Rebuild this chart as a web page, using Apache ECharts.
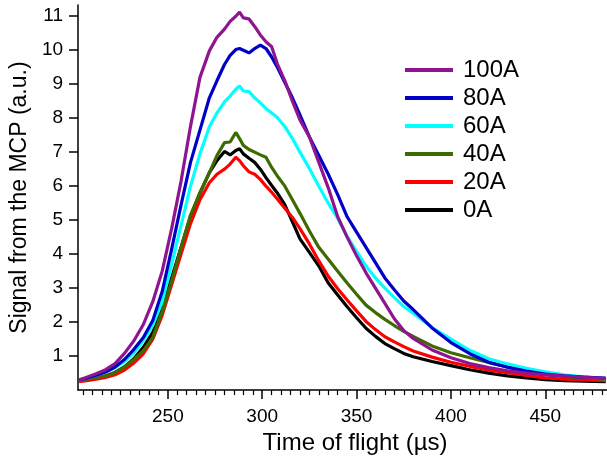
<!DOCTYPE html>
<html>
<head>
<meta charset="utf-8">
<script src="https://cdn.jsdelivr.net/npm/echarts@6/dist/echarts.min.js"></script>
<style>
html,body{margin:0;padding:0;background:#fff;}
#chart{width:607px;height:460px;}
</style>
</head>
<body>
<div id="chart"></div>
<script>
// Time of flight (µs) sample positions
const timeOfFlight = [203, 207, 212, 217, 222, 227, 232, 237, 242, 247, 252, 257, 262, 267, 272, 276, 280, 283, 286, 288, 290, 293, 296, 299, 302, 305, 308, 312, 316, 320, 325, 330, 335, 340, 345, 350, 355, 360, 365, 370, 375, 380, 390, 400, 410, 420, 430, 440, 450, 460, 470, 482];

const signal100A = [0.30, 0.38, 0.48, 0.60, 0.78, 1.08, 1.45, 1.93, 2.60, 3.50, 4.75, 6.15, 7.76, 9.20, 9.98, 10.38, 10.62, 10.85, 11.00, 11.12, 10.95, 10.92, 10.70, 10.45, 10.25, 10.10, 9.60, 9.10, 8.50, 7.95, 7.45, 6.70, 5.95, 5.10, 4.50, 3.95, 3.45, 3.00, 2.55, 2.10, 1.75, 1.52, 1.18, 0.95, 0.78, 0.66, 0.57, 0.50, 0.45, 0.41, 0.38, 0.34];
const signal80A  = [0.30, 0.35, 0.44, 0.53, 0.68, 0.90, 1.20, 1.55, 2.05, 2.90, 4.15, 5.45, 6.70, 7.65, 8.60, 9.10, 9.58, 9.85, 10.02, 10.05, 10.00, 9.92, 10.05, 10.15, 10.05, 9.80, 9.50, 9.05, 8.60, 8.10, 7.45, 6.90, 6.35, 5.75, 5.10, 4.65, 4.20, 3.75, 3.30, 2.95, 2.62, 2.37, 1.83, 1.40, 1.07, 0.82, 0.67, 0.56, 0.47, 0.42, 0.38, 0.35];
const signal60A  = [0.30, 0.35, 0.44, 0.54, 0.66, 0.84, 1.10, 1.46, 1.90, 2.60, 3.70, 4.85, 6.00, 6.95, 7.75, 8.15, 8.48, 8.65, 8.85, 8.95, 8.80, 8.78, 8.60, 8.45, 8.28, 8.15, 8.02, 7.75, 7.40, 7.00, 6.52, 6.00, 5.50, 5.05, 4.52, 4.08, 3.65, 3.30, 3.00, 2.72, 2.46, 2.26, 1.84, 1.50, 1.17, 0.92, 0.77, 0.64, 0.54, 0.45, 0.39, 0.33];
const signal40A  = [0.28, 0.32, 0.37, 0.42, 0.52, 0.68, 0.90, 1.16, 1.55, 2.30, 3.20, 4.20, 5.15, 5.80, 6.40, 6.90, 7.28, 7.30, 7.58, 7.40, 7.20, 7.08, 7.00, 6.92, 6.85, 6.55, 6.30, 6.00, 5.60, 5.20, 4.68, 4.20, 3.85, 3.50, 3.15, 2.82, 2.50, 2.28, 2.08, 1.90, 1.73, 1.58, 1.30, 1.10, 0.95, 0.81, 0.68, 0.56, 0.46, 0.40, 0.36, 0.32];
const signal20A  = [0.25, 0.28, 0.32, 0.37, 0.45, 0.59, 0.80, 1.07, 1.50, 2.20, 3.10, 4.00, 4.90, 5.60, 6.10, 6.35, 6.50, 6.65, 6.85, 6.75, 6.60, 6.42, 6.35, 6.20, 6.00, 5.82, 5.62, 5.35, 5.08, 4.75, 4.30, 3.80, 3.35, 2.98, 2.65, 2.33, 2.02, 1.78, 1.57, 1.42, 1.28, 1.15, 0.97, 0.82, 0.70, 0.59, 0.51, 0.43, 0.36, 0.32, 0.30, 0.28];
const signal0A   = [0.27, 0.30, 0.35, 0.41, 0.52, 0.68, 0.92, 1.26, 1.70, 2.40, 3.30, 4.20, 5.10, 5.80, 6.40, 6.75, 7.02, 6.92, 7.05, 7.10, 6.95, 6.82, 6.70, 6.50, 6.25, 6.02, 5.80, 5.45, 4.95, 4.45, 4.05, 3.65, 3.15, 2.80, 2.45, 2.13, 1.82, 1.58, 1.37, 1.22, 1.08, 0.98, 0.84, 0.72, 0.60, 0.50, 0.42, 0.36, 0.31, 0.28, 0.26, 0.25];

const seriesNames = ['100A', '80A', '60A', '40A', '20A', '0A'];
const seriesColors = ['#8f1490', '#0000c8', '#00ffff', '#3d6b00', '#ff0000', '#000000'];
const seriesValues = [signal100A, signal80A, signal60A, signal40A, signal20A, signal0A];

const xMajorTicks = [250, 300, 350, 400, 450];
const xMinorTicks = [];
for (let v = 205; v <= 480; v += 5) { if (v % 50 !== 0) xMinorTicks.push(v); }
const yTicks = [1, 2, 3, 4, 5, 6, 7, 8, 9, 10, 11];

const X_MIN = 202.4, X_MAX = 482.7, Y_MIN = 0, Y_MAX = 11.33;

const chart = echarts.init(document.getElementById('chart'), null, {renderer: 'canvas'});

const series = seriesNames.map((name, i) => ({
  name: name,
  type: 'line',
  xAxisIndex: 0,
  yAxisIndex: 0,
  symbol: 'none',
  smooth: false,
  lineStyle: {color: seriesColors[i], width: 3.2},
  itemStyle: {color: seriesColors[i]},
  data: timeOfFlight.map((t, k) => [t, seriesValues[i][k]]),
  z: 10 - i
})).reverse();

const fontFam = 'Liberation Sans, Arial, sans-serif';

chart.setOption({
  animation: false,
  backgroundColor: '#ffffff',
  grid: {left: 76, right: 0, top: 5, bottom: 66, containLabel: false},
  legend: {
    orient: 'vertical',
    left: 405,
    top: 58,
    padding: 0,
    itemGap: 4,
    itemWidth: 48,
    itemHeight: 4,
    icon: 'rect',
    data: seriesNames,
    textStyle: {fontSize: 24, color: '#000', fontFamily: fontFam, padding: [0, 0, 0, 5]}
  },
  xAxis: [{
    type: 'value',
    min: X_MIN, max: X_MAX,
    position: 'bottom',
    name: 'Time of flight (µs)',
    nameLocation: 'middle',
    nameGap: 38,
    nameTextStyle: {fontSize: 24, color: '#000', fontFamily: fontFam, padding: [0, 0, 0, 25]},
    axisLine: {show: true, onZero: false, lineStyle: {color: '#000', width: 1.5}},
    axisTick: {show: true, inside: false, length: 9, customValues: xMajorTicks, lineStyle: {color: '#000', width: 1.5}},
    axisLabel: {show: true, customValues: xMajorTicks, fontSize: 19, color: '#000', fontFamily: fontFam, margin: 17},
    splitLine: {show: false}
  }, {
    type: 'value',
    min: X_MIN, max: X_MAX,
    position: 'bottom',
    axisLine: {show: false, onZero: false},
    axisTick: {show: true, inside: false, length: 5, customValues: xMinorTicks, lineStyle: {color: '#000', width: 1.2}},
    axisLabel: {show: false},
    splitLine: {show: false}
  }],
  yAxis: [{
    type: 'value',
    min: Y_MIN, max: Y_MAX,
    name: 'Signal from the MCP (a.u.)',
    nameLocation: 'middle',
    nameGap: 40,
    nameRotate: 90,
    nameTextStyle: {fontSize: 23, color: '#000', fontFamily: fontFam},
    axisLine: {show: true, onZero: false, lineStyle: {color: '#000', width: 1.5}},
    axisTick: {show: true, inside: false, length: 9, customValues: yTicks, lineStyle: {color: '#000', width: 1.5}},
    axisLabel: {show: true, customValues: yTicks, fontSize: 19, color: '#000', fontFamily: fontFam, margin: 15},
    splitLine: {show: false}
  }],
  series: series
});
</script>
</body>
</html>
